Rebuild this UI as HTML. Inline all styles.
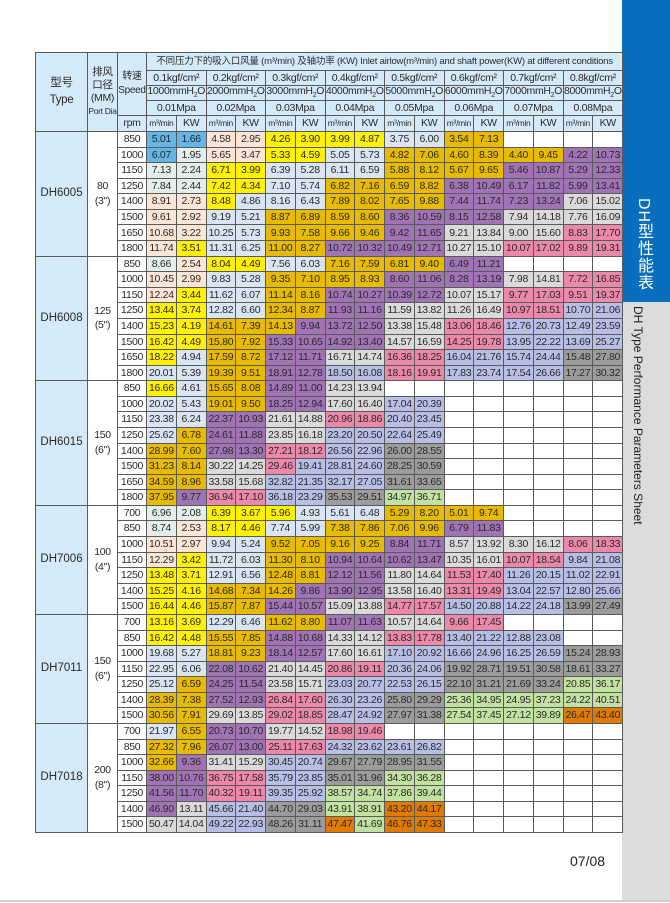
<!DOCTYPE html>
<html><head><meta charset="utf-8">
<style>
html,body{margin:0;padding:0;background:#fff;width:670px;height:903px;overflow:hidden;position:relative;font-family:"Liberation Sans","Noto Sans CJK SC",sans-serif;}
table{position:absolute;left:35px;top:52px;border-collapse:collapse;table-layout:fixed;width:587px;}
td{border:1px solid #5a5a5a;padding:0;text-align:center;white-space:nowrap;overflow:hidden;font-size:10.5px;color:#2a2a2a;letter-spacing:-0.3px;line-height:1;}
tbody tr{height:15.58px;}
.h td,td.h{background:#d4eaf8;}
.t{background:#d4eaf8;font-size:11.5px;letter-spacing:0;}
.c{background:#63b7e6}.b{background:#d9e5f2}.m{background:#e2efe9}.e{background:#fbe5d7}.y{background:#fff200}.g{background:#e8bb00}.p{background:#a073b5}.r{background:#dadada}.k{background:#ec88aa}.v{background:#b7bfe6}.d{background:#9c9c9c}.n{background:#c3e2a2}.o{background:#e07a00}
.side1{position:absolute;left:622px;top:0;width:48px;height:302px;background:#0a6ebf;}
.side2{position:absolute;left:622px;top:302px;width:48px;height:598px;background:#dcdcdc;}
.st1{position:absolute;left:631px;top:198px;writing-mode:vertical-rl;color:#fff;font-size:16px;letter-spacing:1px;}
.st2{position:absolute;left:631px;top:306px;writing-mode:vertical-rl;color:#222;font-size:12px;}
.pg{position:absolute;left:570px;top:853px;font-size:14px;color:#222;}
.bl{position:absolute;left:0;top:900px;width:670px;height:2px;background:#cfcfcf;}
</style></head><body>
<div class="side1"></div><div class="side2"></div>
<div class="st1">DH型性能表</div>
<div class="st2">DH Type Performance Parameters Sheet</div>
<div class="pg">07/08</div>
<div class="bl"></div>
<table>
<colgroup><col style="width:52px"><col style="width:30px"><col style="width:29px">
<col style="width:29.75px"><col style="width:29.75px"><col style="width:29.75px"><col style="width:29.75px"><col style="width:29.75px"><col style="width:29.75px"><col style="width:29.75px"><col style="width:29.75px"><col style="width:29.75px"><col style="width:29.75px"><col style="width:29.75px"><col style="width:29.75px"><col style="width:29.75px"><col style="width:29.75px"><col style="width:29.75px"><col style="width:29.75px"></colgroup>
<thead>
<tr class="h" style="height:18px"><td rowspan="5" style="font-size:11.5px;line-height:1.5">型号<br><b style="font-weight:normal">Type</b></td><td rowspan="5" style="font-size:10.5px;line-height:1.25">排风<br>口径<br>(MM)<br><span style="font-size:8.5px">Port Dia</span></td><td rowspan="4" style="font-size:10px;line-height:1.4">转速<br>Speed</td><td colspan="16" style="font-size:9.5px;letter-spacing:-0.2px">不同压力下的吸入口风量 (m³/min) 及轴功率 (KW) Inlet airlow(m³/min) and shaft power(KW) at different conditions</td></tr>
<tr class="h" style="height:15px"><td colspan="2">0.1kgf/cm²</td><td colspan="2">0.2kgf/cm²</td><td colspan="2">0.3kgf/cm²</td><td colspan="2">0.4kgf/cm²</td><td colspan="2">0.5kgf/cm²</td><td colspan="2">0.6kgf/cm²</td><td colspan="2">0.7kgf/cm²</td><td colspan="2">0.8kgf/cm²</td></tr>
<tr class="h" style="height:15px"><td colspan="2">1000mmH<sub style="font-size:7px">2</sub>O</td><td colspan="2">2000mmH<sub style="font-size:7px">2</sub>O</td><td colspan="2">3000mmH<sub style="font-size:7px">2</sub>O</td><td colspan="2">4000mmH<sub style="font-size:7px">2</sub>O</td><td colspan="2">5000mmH<sub style="font-size:7px">2</sub>O</td><td colspan="2">6000mmH<sub style="font-size:7px">2</sub>O</td><td colspan="2">7000mmH<sub style="font-size:7px">2</sub>O</td><td colspan="2">8000mmH<sub style="font-size:7px">2</sub>O</td></tr>
<tr class="h" style="height:15px"><td colspan="2">0.01Mpa</td><td colspan="2">0.02Mpa</td><td colspan="2">0.03Mpa</td><td colspan="2">0.04Mpa</td><td colspan="2">0.05Mpa</td><td colspan="2">0.06Mpa</td><td colspan="2">0.07Mpa</td><td colspan="2">0.08Mpa</td></tr>
<tr class="h" style="height:16px"><td>rpm</td><td style="font-size:8.5px">m³/min</td><td>KW</td><td style="font-size:8.5px">m³/min</td><td>KW</td><td style="font-size:8.5px">m³/min</td><td>KW</td><td style="font-size:8.5px">m³/min</td><td>KW</td><td style="font-size:8.5px">m³/min</td><td>KW</td><td style="font-size:8.5px">m³/min</td><td>KW</td><td style="font-size:8.5px">m³/min</td><td>KW</td><td style="font-size:8.5px">m³/min</td><td>KW</td></tr>
</thead>
<tbody>
<tr><td rowspan="8" class="t">DH6005</td><td rowspan="8" style="line-height:1.4">80<br>(3")</td><td>850</td><td class="c">5.01</td><td class="c">1.66</td><td class="e">4.58</td><td class="e">2.95</td><td class="y">4.26</td><td class="y">3.90</td><td class="y">3.99</td><td class="y">4.87</td><td class="b">3.75</td><td class="b">6.00</td><td class="g">3.54</td><td class="g">7.13</td><td></td><td></td><td></td><td></td></tr>
<tr><td>1000</td><td class="c">6.07</td><td class="m">1.95</td><td class="e">5.65</td><td class="e">3.47</td><td class="y">5.33</td><td class="y">4.59</td><td class="b">5.05</td><td class="b">5.73</td><td class="g">4.82</td><td class="g">7.06</td><td class="g">4.60</td><td class="g">8.39</td><td class="g">4.40</td><td class="g">9.45</td><td class="p">4.22</td><td class="p">10.73</td></tr>
<tr><td>1150</td><td class="m">7.13</td><td class="m">2.24</td><td class="y">6.71</td><td class="y">3.99</td><td class="b">6.39</td><td class="b">5.28</td><td class="b">6.11</td><td class="b">6.59</td><td class="g">5.88</td><td class="g">8.12</td><td class="g">5.67</td><td class="g">9.65</td><td class="p">5.46</td><td class="p">10.87</td><td class="p">5.29</td><td class="p">12.33</td></tr>
<tr><td>1250</td><td class="m">7.84</td><td class="m">2.44</td><td class="y">7.42</td><td class="y">4.34</td><td class="b">7.10</td><td class="b">5.74</td><td class="g">6.82</td><td class="g">7.16</td><td class="g">6.59</td><td class="g">8.82</td><td class="p">6.38</td><td class="p">10.49</td><td class="p">6.17</td><td class="p">11.82</td><td class="p">5.99</td><td class="p">13.41</td></tr>
<tr><td>1400</td><td class="e">8.91</td><td class="e">2.73</td><td class="y">8.48</td><td class="b">4.86</td><td class="b">8.16</td><td class="b">6.43</td><td class="g">7.89</td><td class="g">8.02</td><td class="g">7.65</td><td class="g">9.88</td><td class="p">7.44</td><td class="p">11.74</td><td class="p">7.23</td><td class="p">13.24</td><td class="r">7.06</td><td class="r">15.02</td></tr>
<tr><td>1500</td><td class="e">9.61</td><td class="e">2.92</td><td class="b">9.19</td><td class="b">5.21</td><td class="g">8.87</td><td class="g">6.89</td><td class="g">8.59</td><td class="g">8.60</td><td class="p">8.36</td><td class="p">10.59</td><td class="p">8.15</td><td class="p">12.58</td><td class="r">7.94</td><td class="r">14.18</td><td class="r">7.76</td><td class="r">16.09</td></tr>
<tr><td>1650</td><td class="e">10.68</td><td class="e">3.22</td><td class="b">10.25</td><td class="b">5.73</td><td class="g">9.93</td><td class="g">7.58</td><td class="g">9.66</td><td class="g">9.46</td><td class="p">9.42</td><td class="p">11.65</td><td class="r">9.21</td><td class="r">13.84</td><td class="r">9.00</td><td class="r">15.60</td><td class="k">8.83</td><td class="k">17.70</td></tr>
<tr><td>1800</td><td class="e">11.74</td><td class="y">3.51</td><td class="b">11.31</td><td class="b">6.25</td><td class="g">11.00</td><td class="g">8.27</td><td class="p">10.72</td><td class="p">10.32</td><td class="p">10.49</td><td class="p">12.71</td><td class="r">10.27</td><td class="r">15.10</td><td class="k">10.07</td><td class="k">17.02</td><td class="k">9.89</td><td class="k">19.31</td></tr>

<tr><td rowspan="8" class="t">DH6008</td><td rowspan="8" style="line-height:1.4">125<br>(5")</td><td>850</td><td class="m">8.66</td><td class="e">2.54</td><td class="y">8.04</td><td class="y">4.49</td><td class="b">7.56</td><td class="b">6.03</td><td class="g">7.16</td><td class="g">7.59</td><td class="g">6.81</td><td class="g">9.40</td><td class="p">6.49</td><td class="p">11.21</td><td></td><td></td><td></td><td></td></tr>
<tr><td>1000</td><td class="e">10.45</td><td class="e">2.99</td><td class="b">9.83</td><td class="b">5.28</td><td class="g">9.35</td><td class="g">7.10</td><td class="g">8.95</td><td class="g">8.93</td><td class="p">8.60</td><td class="p">11.06</td><td class="p">8.28</td><td class="p">13.19</td><td class="r">7.98</td><td class="r">14.81</td><td class="k">7.72</td><td class="k">16.85</td></tr>
<tr><td>1150</td><td class="e">12.24</td><td class="y">3.44</td><td class="b">11.62</td><td class="b">6.07</td><td class="g">11.14</td><td class="g">8.16</td><td class="p">10.74</td><td class="p">10.27</td><td class="p">10.39</td><td class="p">12.72</td><td class="r">10.07</td><td class="r">15.17</td><td class="k">9.77</td><td class="k">17.03</td><td class="k">9.51</td><td class="k">19.37</td></tr>
<tr><td>1250</td><td class="y">13.44</td><td class="y">3.74</td><td class="b">12.82</td><td class="b">6.60</td><td class="g">12.34</td><td class="g">8.87</td><td class="p">11.93</td><td class="p">11.16</td><td class="r">11.59</td><td class="r">13.82</td><td class="r">11.26</td><td class="r">16.49</td><td class="k">10.97</td><td class="k">18.51</td><td class="v">10.70</td><td class="v">21.06</td></tr>
<tr><td>1400</td><td class="y">15.23</td><td class="y">4.19</td><td class="g">14.61</td><td class="g">7.39</td><td class="g">14.13</td><td class="p">9.94</td><td class="p">13.72</td><td class="p">12.50</td><td class="r">13.38</td><td class="r">15.48</td><td class="k">13.06</td><td class="k">18.46</td><td class="v">12.76</td><td class="v">20.73</td><td class="v">12.49</td><td class="v">23.59</td></tr>
<tr><td>1500</td><td class="y">16.42</td><td class="y">4.49</td><td class="g">15.80</td><td class="g">7.92</td><td class="p">15.33</td><td class="p">10.65</td><td class="p">14.92</td><td class="p">13.40</td><td class="r">14.57</td><td class="r">16.59</td><td class="k">14.25</td><td class="k">19.78</td><td class="v">13.95</td><td class="v">22.22</td><td class="v">13.69</td><td class="v">25.27</td></tr>
<tr><td>1650</td><td class="y">18.22</td><td class="b">4.94</td><td class="g">17.59</td><td class="g">8.72</td><td class="p">17.12</td><td class="p">11.71</td><td class="r">16.71</td><td class="r">14.74</td><td class="k">16.36</td><td class="k">18.25</td><td class="v">16.04</td><td class="v">21.76</td><td class="v">15.74</td><td class="v">24.44</td><td class="d">15.48</td><td class="d">27.80</td></tr>
<tr><td>1800</td><td class="b">20.01</td><td class="b">5.39</td><td class="g">19.39</td><td class="g">9.51</td><td class="p">18.91</td><td class="p">12.78</td><td class="v">18.50</td><td class="v">16.08</td><td class="k">18.16</td><td class="k">19.91</td><td class="v">17.83</td><td class="v">23.74</td><td class="v">17.54</td><td class="v">26.66</td><td class="d">17.27</td><td class="d">30.32</td></tr>

<tr><td rowspan="8" class="t">DH6015</td><td rowspan="8" style="line-height:1.4">150<br>(6")</td><td>850</td><td class="y">16.66</td><td class="b">4.61</td><td class="g">15.65</td><td class="g">8.08</td><td class="p">14.89</td><td class="p">11.00</td><td class="r">14.23</td><td class="r">13.94</td><td></td><td></td><td></td><td></td><td></td><td></td><td></td><td></td></tr>
<tr><td>1000</td><td class="b">20.02</td><td class="b">5.43</td><td class="g">19.01</td><td class="g">9.50</td><td class="p">18.25</td><td class="p">12.94</td><td class="r">17.60</td><td class="r">16.40</td><td class="v">17.04</td><td class="v">20.39</td><td></td><td></td><td></td><td></td><td></td><td></td></tr>
<tr><td>1150</td><td class="b">23.38</td><td class="b">6.24</td><td class="p">22.37</td><td class="p">10.93</td><td class="r">21.61</td><td class="r">14.88</td><td class="k">20.96</td><td class="k">18.86</td><td class="v">20.40</td><td class="v">23.45</td><td></td><td></td><td></td><td></td><td></td><td></td></tr>
<tr><td>1250</td><td class="b">25.62</td><td class="g">6.78</td><td class="p">24.61</td><td class="p">11.88</td><td class="r">23.85</td><td class="r">16.18</td><td class="v">23.20</td><td class="v">20.50</td><td class="v">22.64</td><td class="v">25.49</td><td></td><td></td><td></td><td></td><td></td><td></td></tr>
<tr><td>1400</td><td class="g">28.99</td><td class="g">7.60</td><td class="p">27.98</td><td class="p">13.30</td><td class="k">27.21</td><td class="k">18.12</td><td class="v">26.56</td><td class="v">22.96</td><td class="d">26.00</td><td class="d">28.55</td><td></td><td></td><td></td><td></td><td></td><td></td></tr>
<tr><td>1500</td><td class="g">31.23</td><td class="g">8.14</td><td class="r">30.22</td><td class="r">14.25</td><td class="k">29.46</td><td class="v">19.41</td><td class="v">28.81</td><td class="v">24.60</td><td class="d">28.25</td><td class="d">30.59</td><td></td><td></td><td></td><td></td><td></td><td></td></tr>
<tr><td>1650</td><td class="g">34.59</td><td class="g">8.96</td><td class="r">33.58</td><td class="r">15.68</td><td class="v">32.82</td><td class="v">21.35</td><td class="v">32.17</td><td class="v">27.05</td><td class="d">31.61</td><td class="d">33.65</td><td></td><td></td><td></td><td></td><td></td><td></td></tr>
<tr><td>1800</td><td class="g">37.95</td><td class="p">9.77</td><td class="k">36.94</td><td class="k">17.10</td><td class="v">36.18</td><td class="v">23.29</td><td class="d">35.53</td><td class="d">29.51</td><td class="n">34.97</td><td class="n">36.71</td><td></td><td></td><td></td><td></td><td></td><td></td></tr>

<tr><td rowspan="7" class="t">DH7006</td><td rowspan="7" style="line-height:1.4">100<br>(4")</td><td>700</td><td class="m">6.96</td><td class="m">2.08</td><td class="y">6.39</td><td class="y">3.67</td><td class="y">5.96</td><td class="b">4.93</td><td class="b">5.61</td><td class="b">6.48</td><td class="g">5.29</td><td class="g">8.20</td><td class="g">5.01</td><td class="g">9.74</td><td></td><td></td><td></td><td></td></tr>
<tr><td>850</td><td class="m">8.74</td><td class="e">2.53</td><td class="y">8.17</td><td class="y">4.46</td><td class="b">7.74</td><td class="b">5.99</td><td class="g">7.38</td><td class="g">7.86</td><td class="g">7.06</td><td class="g">9.96</td><td class="p">6.79</td><td class="p">11.83</td><td></td><td></td><td></td><td></td></tr>
<tr><td>1000</td><td class="e">10.51</td><td class="e">2.97</td><td class="b">9.94</td><td class="b">5.24</td><td class="g">9.52</td><td class="g">7.05</td><td class="g">9.16</td><td class="g">9.25</td><td class="p">8.84</td><td class="p">11.71</td><td class="r">8.57</td><td class="r">13.92</td><td class="r">8.30</td><td class="r">16.12</td><td class="k">8.06</td><td class="k">18.33</td></tr>
<tr><td>1150</td><td class="e">12.29</td><td class="y">3.42</td><td class="b">11.72</td><td class="b">6.03</td><td class="g">11.30</td><td class="g">8.10</td><td class="p">10.94</td><td class="p">10.64</td><td class="p">10.62</td><td class="p">13.47</td><td class="r">10.35</td><td class="r">16.01</td><td class="k">10.07</td><td class="k">18.54</td><td class="v">9.84</td><td class="v">21.08</td></tr>
<tr><td>1250</td><td class="y">13.48</td><td class="y">3.71</td><td class="b">12.91</td><td class="b">6.56</td><td class="g">12.48</td><td class="g">8.81</td><td class="p">12.12</td><td class="p">11.56</td><td class="r">11.80</td><td class="r">14.64</td><td class="k">11.53</td><td class="k">17.40</td><td class="v">11.26</td><td class="v">20.15</td><td class="v">11.02</td><td class="v">22.91</td></tr>
<tr><td>1400</td><td class="y">15.25</td><td class="y">4.16</td><td class="g">14.68</td><td class="g">7.34</td><td class="g">14.26</td><td class="p">9.86</td><td class="p">13.90</td><td class="p">12.95</td><td class="r">13.58</td><td class="r">16.40</td><td class="k">13.31</td><td class="k">19.49</td><td class="v">13.04</td><td class="v">22.57</td><td class="v">12.80</td><td class="v">25.66</td></tr>
<tr><td>1500</td><td class="y">16.44</td><td class="y">4.46</td><td class="g">15.87</td><td class="g">7.87</td><td class="p">15.44</td><td class="p">10.57</td><td class="r">15.09</td><td class="r">13.88</td><td class="k">14.77</td><td class="k">17.57</td><td class="v">14.50</td><td class="v">20.88</td><td class="v">14.22</td><td class="v">24.18</td><td class="d">13.99</td><td class="d">27.49</td></tr>

<tr><td rowspan="7" class="t">DH7011</td><td rowspan="7" style="line-height:1.4">150<br>(6")</td><td>700</td><td class="y">13.16</td><td class="y">3.69</td><td class="b">12.29</td><td class="b">6.46</td><td class="g">11.62</td><td class="g">8.80</td><td class="p">11.07</td><td class="p">11.63</td><td class="r">10.57</td><td class="r">14.64</td><td class="k">9.66</td><td class="k">17.45</td><td></td><td></td><td></td><td></td></tr>
<tr><td>850</td><td class="y">16.42</td><td class="y">4.48</td><td class="g">15.55</td><td class="g">7.85</td><td class="p">14.88</td><td class="p">10.68</td><td class="r">14.33</td><td class="r">14.12</td><td class="k">13.83</td><td class="k">17.78</td><td class="v">13.40</td><td class="v">21.22</td><td class="v">12.88</td><td class="v">23.08</td><td></td><td></td></tr>
<tr><td>1000</td><td class="b">19.68</td><td class="b">5.27</td><td class="g">18.81</td><td class="g">9.23</td><td class="p">18.14</td><td class="p">12.57</td><td class="r">17.60</td><td class="r">16.61</td><td class="v">17.10</td><td class="v">20.92</td><td class="v">16.66</td><td class="v">24.96</td><td class="v">16.25</td><td class="v">26.59</td><td class="d">15.24</td><td class="d">28.93</td></tr>
<tr><td>1150</td><td class="b">22.95</td><td class="b">6.06</td><td class="p">22.08</td><td class="p">10.62</td><td class="r">21.40</td><td class="r">14.45</td><td class="k">20.86</td><td class="k">19.11</td><td class="v">20.36</td><td class="v">24.06</td><td class="d">19.92</td><td class="d">28.71</td><td class="d">19.51</td><td class="d">30.58</td><td class="d">18.61</td><td class="d">33.27</td></tr>
<tr><td>1250</td><td class="b">25.12</td><td class="g">6.59</td><td class="p">24.25</td><td class="p">11.54</td><td class="r">23.58</td><td class="r">15.71</td><td class="v">23.03</td><td class="v">20.77</td><td class="v">22.53</td><td class="v">26.15</td><td class="d">22.10</td><td class="d">31.21</td><td class="d">21.69</td><td class="d">33.24</td><td class="n">20.85</td><td class="n">36.17</td></tr>
<tr><td>1400</td><td class="g">28.39</td><td class="g">7.38</td><td class="p">27.52</td><td class="p">12.93</td><td class="k">26.84</td><td class="k">17.60</td><td class="v">26.30</td><td class="v">23.26</td><td class="d">25.80</td><td class="d">29.29</td><td class="n">25.36</td><td class="n">34.95</td><td class="n">24.95</td><td class="n">37.23</td><td class="n">24.22</td><td class="n">40.51</td></tr>
<tr><td>1500</td><td class="g">30.56</td><td class="g">7.91</td><td class="r">29.69</td><td class="r">13.85</td><td class="k">29.02</td><td class="k">18.85</td><td class="v">28.47</td><td class="v">24.92</td><td class="d">27.97</td><td class="d">31.38</td><td class="n">27.54</td><td class="n">37.45</td><td class="n">27.12</td><td class="n">39.89</td><td class="o">26.47</td><td class="o">43.40</td></tr>

<tr><td rowspan="7" class="t">DH7018</td><td rowspan="7" style="line-height:1.4">200<br>(8")</td><td>700</td><td class="b">21.97</td><td class="g">6.55</td><td class="p">20.73</td><td class="p">10.70</td><td class="r">19.77</td><td class="r">14.52</td><td class="k">18.98</td><td class="k">19.46</td><td></td><td></td><td></td><td></td><td></td><td></td><td></td><td></td></tr>
<tr><td>850</td><td class="g">27.32</td><td class="g">7.96</td><td class="p">26.07</td><td class="p">13.00</td><td class="k">25.11</td><td class="k">17.63</td><td class="v">24.32</td><td class="v">23.62</td><td class="v">23.61</td><td class="v">26.82</td><td></td><td></td><td></td><td></td><td></td><td></td></tr>
<tr><td>1000</td><td class="g">32.66</td><td class="p">9.36</td><td class="r">31.41</td><td class="r">15.29</td><td class="v">30.45</td><td class="v">20.74</td><td class="d">29.67</td><td class="d">27.79</td><td class="d">28.95</td><td class="d">31.55</td><td></td><td></td><td></td><td></td><td></td><td></td></tr>
<tr><td>1150</td><td class="p">38.00</td><td class="p">10.76</td><td class="k">36.75</td><td class="k">17.58</td><td class="v">35.79</td><td class="v">23.85</td><td class="d">35.01</td><td class="d">31.96</td><td class="n">34.30</td><td class="n">36.28</td><td></td><td></td><td></td><td></td><td></td><td></td></tr>
<tr><td>1250</td><td class="p">41.56</td><td class="p">11.70</td><td class="k">40.32</td><td class="k">19.11</td><td class="v">39.35</td><td class="v">25.92</td><td class="n">38.57</td><td class="n">34.74</td><td class="n">37.86</td><td class="n">39.44</td><td></td><td></td><td></td><td></td><td></td><td></td></tr>
<tr><td>1400</td><td class="p">46.90</td><td class="r">13.11</td><td class="v">45.66</td><td class="v">21.40</td><td class="d">44.70</td><td class="d">29.03</td><td class="n">43.91</td><td class="n">38.91</td><td class="o">43.20</td><td class="o">44.17</td><td></td><td></td><td></td><td></td><td></td><td></td></tr>
<tr><td>1500</td><td class="r">50.47</td><td class="r">14.04</td><td class="v">49.22</td><td class="v">22.93</td><td class="d">48.26</td><td class="d">31.11</td><td class="o">47.47</td><td class="n">41.69</td><td class="o">46.76</td><td class="o">47.33</td><td></td><td></td><td></td><td></td><td></td><td></td></tr>
</tbody>
</table>
</body></html>
